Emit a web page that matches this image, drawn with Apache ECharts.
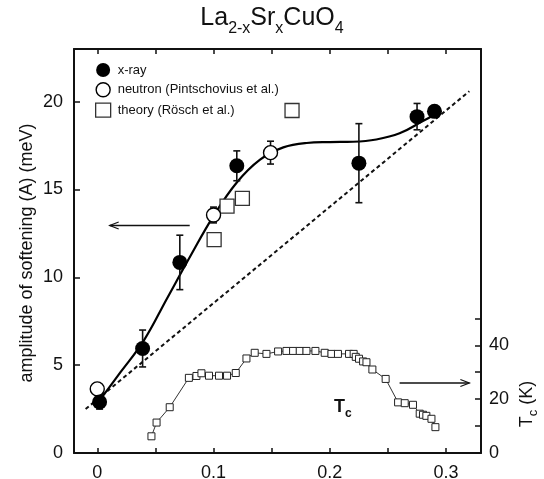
<!DOCTYPE html>
<html>
<head>
<meta charset="utf-8">
<script src="https://cdn.jsdelivr.net/npm/echarts@6/dist/echarts.min.js"></script>
<style>
  html, body { margin: 0; padding: 0; background: #fff; }
  #chart { width: 544px; height: 479px; }
</style>
</head>
<body>
<div id="chart"></div>
<script>
// Phonon softening amplitude vs Sr doping x in La(2-x)Sr(x)CuO4

// x-ray: doping, amplitude (meV), error (meV)
const xrayX   = [0.002, 0.039, 0.071, 0.120, 0.225, 0.275, 0.290];
const xrayA   = [2.9, 5.95, 10.85, 16.35, 16.5, 19.15, 19.45];
const xrayErr = [0.4, 1.05, 1.55, 0.85, 2.25, 0.75, 0.3];

// neutron (Pintschovius et al.)
const neutronX   = [0.0, 0.100, 0.149];
const neutronA   = [3.65, 13.55, 17.1];
const neutronErr = [0.3, 0.45, 0.65];

// theory (Rösch et al.)
const theoryX = [0.1005, 0.1116, 0.1248, 0.1675];
const theoryA = [12.15, 14.05, 14.5, 19.5];

// guide-to-the-eye through the softening data
const guideX = [0.002, 0.02, 0.04, 0.06, 0.08, 0.10, 0.12, 0.14, 0.16, 0.18, 0.20, 0.22, 0.24, 0.26, 0.28, 0.294];
const guideA = [3.0, 4.6, 6.4, 8.8, 11.2, 13.5, 15.4, 16.7, 17.4, 17.65, 17.7, 17.72, 17.85, 18.2, 18.9, 19.4];

// linear reference (dashed)
const linearX = [-0.01, 0.32];
const linearA = [2.5, 20.6];

// superconducting Tc (K) vs doping
const tcX = [0.0466, 0.0510, 0.0623, 0.0788, 0.0853, 0.0896, 0.0961, 0.1047, 0.1116, 0.1191,
             0.1283, 0.1354, 0.1455, 0.1555, 0.1627, 0.1684, 0.1741, 0.1799, 0.1876, 0.1956,
             0.2014, 0.2070, 0.2165, 0.2205, 0.2223, 0.2251, 0.2286, 0.2315, 0.2366, 0.2480,
             0.2587, 0.2644, 0.2715, 0.2773, 0.2801, 0.2830, 0.2874, 0.2908];
const tcK = [6.2, 11.3, 17.0, 27.9, 28.6, 29.6, 28.7, 28.7, 28.7, 29.7,
             35.1, 37.2, 36.8, 37.7, 37.9, 37.9, 37.9, 37.9, 37.9, 37.2,
             36.8, 36.8, 36.8, 36.8, 35.7, 35.0, 34.0, 33.7, 31.0, 27.5,
             18.8, 18.5, 17.9, 14.6, 14.2, 13.8, 12.7, 9.6];

// axis ticks and labels
const xTicks = [0, 0.05, 0.10, 0.15, 0.20, 0.25, 0.30];
const xLabels = [0, 0.1, 0.2, 0.3];
const yTicks = [0, 5, 10, 15, 20];
const tcTicks = [0, 10, 20, 30, 40, 50];
const tcLabels = [0, 20, 40];

const FONT = '"Liberation Sans", Arial, Helvetica, sans-serif';
const INK = '#111';

const zip = (a, b) => a.map((v, i) => [v, b[i]]);
const zip3 = (a, b, c) => a.map((v, i) => [v, b[i], c[i]]);

function errorBars(name, xs, ys, es) {
  return {
    type: 'custom',
    name: name,
    z: 3,
    silent: true,
    renderItem(params, api) {
      const x = api.value(0), y = api.value(1), e = api.value(2);
      const top = api.coord([x, y + e]);
      const bot = api.coord([x, y - e]);
      const hw = 3.5;
      const st = { stroke: INK, lineWidth: 1.6 };
      return {
        type: 'group',
        children: [
          { type: 'line', shape: { x1: top[0], y1: top[1], x2: bot[0], y2: bot[1] }, style: st },
          { type: 'line', shape: { x1: top[0] - hw, y1: top[1], x2: top[0] + hw, y2: top[1] }, style: st },
          { type: 'line', shape: { x1: bot[0] - hw, y1: bot[1], x2: bot[0] + hw, y2: bot[1] }, style: st }
        ]
      };
    },
    data: zip3(xs, ys, es)
  };
}

const axisLineStyle = { show: true, onZero: false, lineStyle: { color: INK, width: 2 } };
const labelStyle = { color: INK, fontSize: 18, fontFamily: FONT };
const tickStyle = { color: INK, width: 1.5 };

const chart = echarts.init(document.getElementById('chart'), null, { renderer: 'canvas' });

chart.setOption({
  animation: false,
  backgroundColor: '#fff',
  grid: { left: 74, right: 63, top: 49, bottom: 26, containLabel: false, outerBoundsMode: 'none' },
  legend: {
    orient: 'vertical',
    left: 90,
    top: 58,
    itemWidth: 15,
    itemHeight: 14,
    itemGap: 5,
    selectedMode: false,
    textStyle: { color: INK, fontSize: 13, fontFamily: FONT, padding: [0, 0, 0, 2] },
    data: [
      { name: 'x-ray', icon: 'circle', itemStyle: { color: '#000', borderWidth: 0 } },
      { name: 'neutron (Pintschovius et al.)', icon: 'circle',
        itemStyle: { color: '#fff', borderColor: '#000', borderWidth: 1.4 } },
      { name: 'theory (Rösch et al.)', icon: 'rect',
        itemStyle: { color: '#fff', borderColor: '#333', borderWidth: 1.3 } }
    ]
  },
  xAxis: [
    {
      type: 'value', position: 'bottom', min: -0.02, max: 0.33,
      axisLine: axisLineStyle,
      axisTick: { inside: true, length: 5, customValues: xTicks, lineStyle: tickStyle },
      axisLabel: Object.assign({ customValues: xLabels, margin: 11,
        formatter: v => (v === 0 ? '0' : String(+v.toFixed(2))) }, labelStyle),
      splitLine: { show: false }
    },
    {
      type: 'value', position: 'top', min: -0.02, max: 0.33,
      axisLine: axisLineStyle,
      axisTick: { inside: true, length: 5, customValues: xTicks, lineStyle: tickStyle },
      axisLabel: { show: false },
      splitLine: { show: false }
    }
  ],
  yAxis: [
    {
      type: 'value', position: 'left', min: 0, max: 23,
      axisLine: axisLineStyle,
      axisTick: { show: true, inside: true, length: 6, customValues: yTicks, lineStyle: tickStyle },
      axisLabel: Object.assign({ customValues: yTicks, margin: 11 }, labelStyle),
      splitLine: { show: false }
    },
    {
      type: 'value', position: 'right', min: 0, max: 150,
      axisLine: axisLineStyle,
      axisTick: { show: true, inside: true, length: 6, customValues: tcTicks, lineStyle: tickStyle },
      axisLabel: Object.assign({ customValues: tcLabels, margin: 8 }, labelStyle),
      splitLine: { show: false }
    }
  ],
  series: [
    {
      name: 'linear', type: 'line', xAxisIndex: 0, yAxisIndex: 0,
      data: zip(linearX, linearA), showSymbol: false, silent: true, z: 1,
      lineStyle: { color: INK, width: 2, type: [4, 3] }
    },
    {
      name: 'guide', type: 'line', xAxisIndex: 0, yAxisIndex: 0,
      data: zip(guideX, guideA), showSymbol: false, silent: true, smooth: 0.4, z: 2,
      lineStyle: { color: '#000', width: 2.2 }
    },
    {
      name: 'Tc', type: 'line', xAxisIndex: 0, yAxisIndex: 1,
      data: zip(tcX, tcK), symbol: 'rect', symbolSize: 7, showSymbol: true, silent: true, z: 2,
      lineStyle: { color: '#333', width: 1 },
      itemStyle: { color: '#fff', borderColor: '#222', borderWidth: 1 }
    },
    errorBars('x-ray error', xrayX, xrayA, xrayErr),
    errorBars('neutron error', neutronX, neutronA, neutronErr),
    {
      name: 'theory (Rösch et al.)', type: 'scatter', xAxisIndex: 0, yAxisIndex: 0,
      data: zip(theoryX, theoryA), symbol: 'rect', symbolSize: 14, z: 4,
      itemStyle: { color: '#fff', borderColor: '#333', borderWidth: 1.3, opacity: 1 }
    },
    {
      name: 'neutron (Pintschovius et al.)', type: 'scatter', xAxisIndex: 0, yAxisIndex: 0,
      data: zip(neutronX, neutronA), symbol: 'circle', symbolSize: 14, z: 5,
      itemStyle: { color: '#fff', borderColor: '#000', borderWidth: 1.4, opacity: 1 }
    },
    {
      name: 'x-ray', type: 'scatter', xAxisIndex: 0, yAxisIndex: 0,
      data: zip(xrayX, xrayA), symbol: 'circle', symbolSize: 15, z: 6,
      itemStyle: { color: '#000', opacity: 1 }
    }
  ]
});

// annotations placed in data coordinates
const toPx = (x, y, yIdx) => chart.convertToPixel({ xAxisIndex: 0, yAxisIndex: yIdx }, [x, y]);

function arrow(from, to) {
  const dx = to[0] - from[0], dy = to[1] - from[1];
  const len = Math.hypot(dx, dy), ux = dx / len, uy = dy / len;
  const hl = 9, hw = 3.5;
  const bx = to[0] - ux * hl, by = to[1] - uy * hl;
  return {
    type: 'group',
    children: [
      { type: 'line', shape: { x1: from[0], y1: from[1], x2: to[0], y2: to[1] },
        style: { stroke: INK, lineWidth: 1.6 } },
      { type: 'polyline',
        shape: { points: [[bx - uy * hw, by + ux * hw], to, [bx + uy * hw, by - ux * hw]] },
        style: { stroke: INK, lineWidth: 1.2, fill: null } }
    ]
  };
}

const leftArrow = arrow(toPx(0.0795, 12.95, 0), toPx(0.0107, 12.95, 0));
const rightArrow = arrow(toPx(0.260, 26, 1), toPx(0.320, 26, 1));
const tcLabelPos = toPx(0.2035, 17.8, 1);

chart.setOption({
  graphic: [
    {
      type: 'text', left: 'center', top: 6,
      style: {
        text: '{m|La}{s|2-x}{m|Sr}{s|x}{m|CuO}{s|4}',
        rich: {
          m: { fontSize: 25, fontFamily: FONT, fill: INK, lineHeight: 30, verticalAlign: 'bottom' },
          s: { fontSize: 16, fontFamily: FONT, fill: INK, lineHeight: 30, verticalAlign: 'bottom', padding: [0, 0, -6, 0] }
        }
      }
    },
    {
      type: 'text', x: 27, y: 253, rotation: Math.PI / 2,
      style: {
        text: 'amplitude of softening (A) (meV)', fontSize: 18, fontFamily: FONT, fill: INK,
        align: 'center', verticalAlign: 'middle'
      }
    },
    {
      type: 'text', x: 525, y: 404, rotation: Math.PI / 2,
      style: {
        text: '{m|T}{s|c}{m| (K)}', align: 'center', verticalAlign: 'middle',
        rich: {
          m: { fontSize: 18, fontFamily: FONT, fill: INK, lineHeight: 22, verticalAlign: 'bottom' },
          s: { fontSize: 13, fontFamily: FONT, fill: INK, lineHeight: 22, verticalAlign: 'bottom', padding: [0, 0, -4, 0] }
        }
      }
    },
    {
      type: 'text', x: tcLabelPos[0], y: tcLabelPos[1],
      style: {
        text: '{m|T}{s|c}', align: 'left', verticalAlign: 'middle',
        rich: {
          m: { fontSize: 18, fontWeight: 'bold', fontFamily: FONT, fill: INK, lineHeight: 22, verticalAlign: 'bottom' },
          s: { fontSize: 12, fontWeight: 'bold', fontFamily: FONT, fill: INK, lineHeight: 22, verticalAlign: 'bottom', padding: [0, 0, -4, 0] }
        }
      }
    },
    leftArrow,
    rightArrow
  ]
});
</script>
</body>
</html>
